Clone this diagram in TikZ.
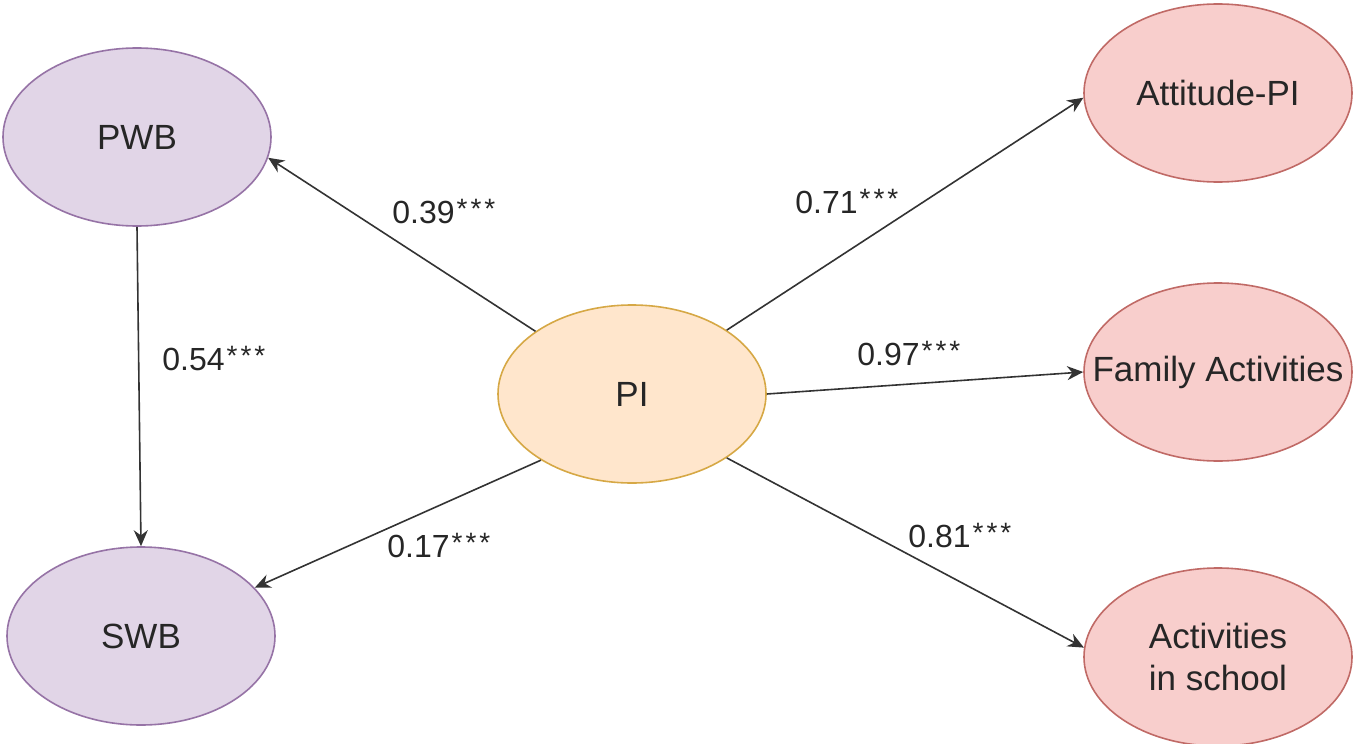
\documentclass[tikz,border=0pt]{standalone}
\usepackage{fontspec}
\setmainfont{Liberation Sans}
\usetikzlibrary{arrows.meta,shapes.geometric}
\definecolor{wbfill}{HTML}{E1D5E7}
\definecolor{wbline}{HTML}{9673A6}
\definecolor{pifill}{HTML}{FFE6CC}
\definecolor{piline}{HTML}{D6A845}
\definecolor{actfill}{HTML}{F8CECC}
\definecolor{actline}{HTML}{C06A66}
\newcommand{\stars}{\kern1pt\raisebox{2.5pt}{\fontsize{14}{14}\selectfont *\kern1.5pt*\kern1.5pt*}}
\tikzset{
  latent/.style={ellipse,draw,line width=0.8pt,minimum width=134pt,minimum height=89pt,
    inner sep=0pt,text=black!85,font=\fontsize{17.5}{21}\selectfont,align=center},
  coef/.style={anchor=base west,inner sep=0pt,text=black!85,font=\fontsize{16}{19}\selectfont},
  link/.style={draw,line width=0.8pt,black!80,-{Stealth[length=8pt,width=7pt]}}
}
\begin{document}
\begin{tikzpicture}[x=0.5pt,y=-0.5pt]
\useasboundingbox (0,0) rectangle (1355,744);

\node[latent,fill=wbfill,draw=wbline] (pwb) at (137,137) {PWB};
\node[latent,fill=wbfill,draw=wbline] (swb) at (141,636) {SWB};
\node[latent,fill=pifill,draw=piline] (pi) at (632,394) {PI};
\node[latent,fill=actfill,draw=actline] (att) at (1218,93) {Attitude-PI};
\node[latent,fill=actfill,draw=actline,inner xsep=-20pt] (fam) at (1218,372) {Family Activities};
\node[latent,fill=actfill,draw=actline] (sch) at (1218,657) {Activities\\in school};

\path[link] (pi.147) -- (pwb.-9);
\path[link] (pwb.south) -- (swb.north);
\path[link] (pi.216) -- (swb.23);
\path[link] (pi.34) -- (att.182);
\path[link] (pi.east) -- (fam.west);
\path[link] (pi.-34) -- (sch.176);

\node[coef] (c39) at (392,223) {0.39\stars};
\node[coef] (c54) at (162,370) {0.54\stars};
\node[coef] (c17) at (387,557) {0.17\stars};
\node[coef] (c71) at (795,213) {0.71\stars};
\node[coef] (c97) at (857,365) {0.97\stars};
\node[coef] (c81) at (908,547) {0.81\stars};
\end{tikzpicture}
\end{document}
